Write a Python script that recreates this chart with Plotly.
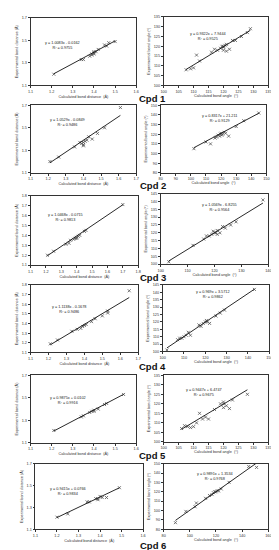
import plotly.graph_objects as go

W, H = 279, 550

# ---------------- data ----------------
compounds = ["Cpd 1", "Cpd 2", "Cpd 3", "Cpd 4", "Cpd 5", "Cpd 6"]

# bond distances (calc, exp)
d1_calc = [1.21, 1.34, 1.35, 1.38, 1.39, 1.39, 1.40, 1.40, 1.40, 1.41, 1.42, 1.45, 1.46, 1.47, 1.50]
d1_exp  = [1.20, 1.33, 1.33, 1.36, 1.37, 1.38, 1.39, 1.38, 1.40, 1.40, 1.42, 1.46, 1.45, 1.48, 1.49]
d2_calc = [1.21, 1.26, 1.35, 1.38, 1.39, 1.40, 1.40, 1.40, 1.41, 1.42, 1.43, 1.45, 1.48, 1.52, 1.61]
d2_exp  = [1.20, 1.24, 1.33, 1.37, 1.36, 1.35, 1.37, 1.34, 1.38, 1.39, 1.42, 1.40, 1.45, 1.50, 1.68]
d3_calc = [1.21, 1.25, 1.33, 1.35, 1.36, 1.38, 1.39, 1.40, 1.40, 1.41, 1.42, 1.45, 1.46, 1.70]
d3_exp  = [1.20, 1.24, 1.31, 1.32, 1.35, 1.36, 1.37, 1.38, 1.37, 1.39, 1.40, 1.44, 1.45, 1.71]
d4_calc = [1.21, 1.25, 1.33, 1.36, 1.38, 1.39, 1.40, 1.41, 1.44, 1.46, 1.50, 1.53, 1.53, 1.65]
d4_exp  = [1.19, 1.23, 1.32, 1.34, 1.35, 1.37, 1.38, 1.39, 1.42, 1.45, 1.48, 1.53, 1.51, 1.74]
d5_calc = [1.21, 1.34, 1.35, 1.38, 1.39, 1.40, 1.40, 1.42, 1.45, 1.46, 1.54]
d5_exp  = [1.21, 1.33, 1.34, 1.37, 1.38, 1.39, 1.38, 1.40, 1.44, 1.45, 1.53]
d6_calc = [1.20, 1.25, 1.34, 1.35, 1.38, 1.39, 1.39, 1.40, 1.41, 1.43, 1.49]
d6_exp  = [1.21, 1.24, 1.35, 1.35, 1.38, 1.38, 1.37, 1.40, 1.39, 1.39, 1.48]

# bond angles (calc, exp)
a1_calc = [107.5, 109, 110, 111, 112, 116, 117, 118, 119, 119.5, 120, 120, 120.5, 121, 120, 121, 122, 123, 124, 126, 128, 129]
a1_exp  = [108, 108.5, 109, 115.5, 112.5, 117, 118.5, 118, 119, 120, 120, 119.5, 120.5, 121, 118, 117.5, 118.5, 123, 123, 125, 127, 129]
a2_calc = [102, 110, 113, 116, 117, 118, 119, 119.5, 120, 120.5, 121, 122, 123, 125, 130, 135, 145]
a2_exp  = [105, 112, 110, 116, 117, 119, 118, 120, 121, 119, 120, 122, 121, 118, 128, 134, 142]
a3_calc = [103, 112, 116, 117, 118, 119, 119.5, 120, 120.5, 121, 121, 122, 123, 124, 126, 128, 138]
a3_exp  = [101.5, 112, 116, 118, 118, 119, 121, 120, 120, 119, 121.5, 120, 124, 123, 125, 127, 141]
a4_calc = [102, 107, 108, 109, 110, 111, 112, 113, 117, 118, 119, 120, 120.5, 121, 122, 125, 127, 129, 143]
a4_exp  = [101, 108, 109, 109, 110, 111, 113, 111, 118, 117, 119, 120, 121, 120, 119, 124, 126, 128, 142]
a5_calc = [106, 107, 108, 109, 110, 111, 112, 113, 114, 115, 117, 119, 120, 120, 121, 120, 122, 123, 128]
a5_exp  = [107, 108.5, 108, 107.5, 108, 110, 115, 112, 113, 112, 117, 120, 120, 121, 119, 118, 117.5, 122, 125]
a6_calc = [89, 97, 104, 105, 112, 115, 117, 118, 119, 120, 121, 122, 124, 130, 145, 151]
a6_exp  = [87, 99, 104, 108, 113, 116, 117, 119, 120, 120, 121, 121, 123, 130, 147, 146]

# regression equations (slope, intercept, R²)
d_slope = [1.0083, 1.0529, 1.0468, 1.1138, 0.9875, 0.9415]
d_inter = [-0.0162, -0.0849, -0.0715, -0.1678, 0.0102, 0.0766]
d_r2    = ["0.9755", "0.9486", "0.9813", "0.9486", "0.9916", "0.9834"]
a_slope = [0.9322, 0.8317, 1.0569, 0.969, 0.9447, 0.9891]
a_inter = [7.9444, 21.211, -6.8255, 3.5712, 6.4747, 1.3534]
a_r2    = ["0.9525", "0.9129", "0.9564", "0.9862", "0.9675", "0.9768"]
d_eq = ["y = 1.0083x - 0.0162", "y = 1.0529x - 0.0849", "y = 1.0468x - 0.0715",
        "y = 1.1138x - 0.1678", "y = 0.9875x + 0.0102", "y = 0.9415x + 0.0766"]
a_eq = ["y = 0.9322x + 7.9444", "y = 0.8317x + 21.211", "y = 1.0569x - 6.8255",
        "y = 0.969x + 3.5712", "y = 0.9447x + 6.4747", "y = 0.9891x + 1.3534"]

# axis ranges / tick steps
d_xrange = [(1.1, 1.6), (1.1, 1.7), (1.1, 1.8), (1.1, 1.7), (1.1, 1.6), (1.1, 1.6)]
d_yrange = [(1.1, 1.7), (1.1, 1.7), (1.1, 1.8), (1.1, 1.8), (1.1, 1.7), (1.1, 1.7)]
d_ydtick = [0.2, 0.2, 0.1, 0.1, 0.2, 0.2]
a_xrange = [(100, 135), (80, 150), (100, 140), (100, 150), (100, 135), (80, 160)]
a_xdtick = [5, 10, 10, 10, 5, 20]
a_yrange = [(100, 135), (80, 150), (100, 145), (100, 145), (100, 135), (80, 150)]
a_ydtick = [5, 10, 5, 5, 5, 10]

d_calc = [d1_calc, d2_calc, d3_calc, d4_calc, d5_calc, d6_calc]
d_exp = [d1_exp, d2_exp, d3_exp, d4_exp, d5_exp, d6_exp]
a_calc = [a1_calc, a2_calc, a3_calc, a4_calc, a5_calc, a6_calc]
a_exp = [a1_exp, a2_exp, a3_exp, a4_exp, a5_exp, a6_exp]

# ---------------- layout geometry (pixels) ----------------
d_box = [(20, 128, 8, 76), (20, 128, 96, 164), (20, 130, 187, 257),
         (20, 130, 277, 345), (20, 128, 368, 436), (25, 135, 457, 523)]
a_box = [(156, 263, 7, 76), (153, 261, 96, 164), (153, 263, 185, 256),
         (155, 264, 277, 344), (156, 263, 368, 435), (156, 263, 457, 523)]
d_eqpos = [(0.30, 0.59), (0.35, 0.75), (0.32, 0.69), (0.36, 0.64), (0.35, 0.62), (0.30, 0.57)]
a_eqpos = [(0.42, 0.72), (0.56, 0.80), (0.55, 0.80), (0.47, 0.85), (0.39, 0.74), (0.49, 0.81)]
cpd_y = [89, 177, 269.5, 359.5, 449, 539]

FONT = "Liberation Sans, Arial, sans-serif"
FS = 3.8
fig = go.Figure()
layout = {}
annotations = []

def add_panel(idx, xs, ys, slope, inter, xr, yr, xdt, ydt, box, eqpos, eq, r2, xtitle, ytitle, fmt):
    n = idx + 1
    xa = "xaxis" if n == 1 else f"xaxis{n}"
    ya = "yaxis" if n == 1 else f"yaxis{n}"
    xref = "x" if n == 1 else f"x{n}"
    yref = "y" if n == 1 else f"y{n}"
    x0, x1, y0, y1 = box
    fig.add_trace(go.Scatter(x=xs, y=ys, mode="markers", xaxis=xref, yaxis=yref,
                             marker=dict(symbol="x-thin-open", size=3, color="#555",
                                         line=dict(width=0.8, color="#555")),
                             showlegend=False, hoverinfo="skip"))
    lx = [min(xs), max(xs)]
    ly = [slope * v + inter for v in lx]
    fig.add_trace(go.Scatter(x=lx, y=ly, mode="lines", xaxis=xref, yaxis=yref,
                             line=dict(color="#111", width=0.9),
                             showlegend=False, hoverinfo="skip"))
    common = dict(showline=True, mirror=True, linecolor="#333", linewidth=0.7,
                  ticks="outside", ticklen=2, tickwidth=0.5, tickcolor="#333",
                  showgrid=False, zeroline=False,
                  tickfont=dict(size=FS, family=FONT, color="#333"))
    layout[xa] = dict(common, domain=[x0 / W, x1 / W], range=list(xr), dtick=xdt,
                      tick0=xr[0], anchor=yref, tickformat=fmt,
                      title=dict(text=xtitle, font=dict(size=FS, family=FONT, color="#333"),
                                 standoff=1))
    layout[ya] = dict(common, domain=[1 - y1 / H, 1 - y0 / H], range=list(yr), dtick=ydt,
                      tick0=yr[0], anchor=xref, tickformat=fmt,
                      title=dict(text=ytitle, font=dict(size=FS, family=FONT, color="#333"),
                                 standoff=3))
    annotations.append(dict(text=f"{eq}<br>R² = {r2}", xref=f"{xref} domain", yref=f"{yref} domain",
                            x=eqpos[0], y=eqpos[1], showarrow=False, align="center",
                            xanchor="center", yanchor="middle",
                            font=dict(size=FS, family=FONT, color="#222")))

for i in range(6):
    add_panel(2 * i, d_calc[i], d_exp[i], d_slope[i], d_inter[i], d_xrange[i], d_yrange[i],
              0.1, d_ydtick[i], d_box[i], d_eqpos[i], d_eq[i], d_r2[i],
              "Calculated bond distance  (Å)", "Experimental bond distance (Å)", ".1f")
    add_panel(2 * i + 1, a_calc[i], a_exp[i], a_slope[i], a_inter[i], a_xrange[i], a_yrange[i],
              a_xdtick[i], a_ydtick[i], a_box[i], a_eqpos[i], a_eq[i], a_r2[i],
              "Calculated bond angle  (°)", "Experimental bond angle (°)", "d")
    annotations.append(dict(text=f"<b>{compounds[i]}</b>", xref="paper", yref="paper",
                            x=145 / W, y=1 - cpd_y[i] / H, showarrow=False,
                            xanchor="center", yanchor="middle", borderpad=0,
                            font=dict(size=9.5, family=FONT, color="#111")))

fig.update_layout(width=W, height=H, margin=dict(l=0, r=0, t=0, b=0),
                  paper_bgcolor="white", plot_bgcolor="white",
                  annotations=annotations, **layout)
fig.write_html("out.html")
